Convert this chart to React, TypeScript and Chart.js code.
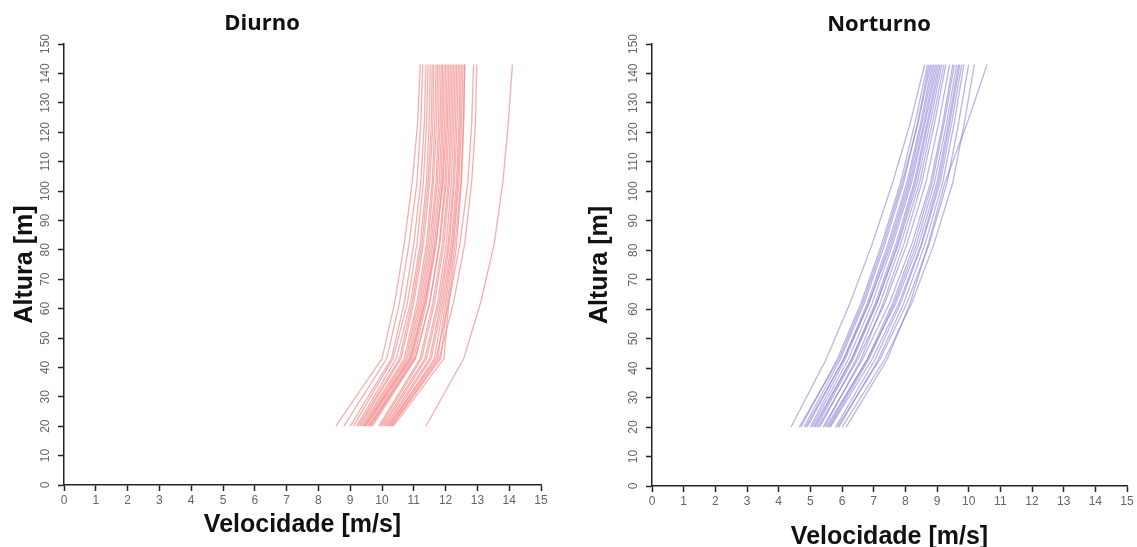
import React, { useEffect, useRef } from "react";
import { Chart, registerables } from "chart.js";

Chart.register(...registerables);

// Heights of the measurement levels [m]
const heights = [20, 43, 62, 82, 103, 123, 143];

// Diurno profiles: wind speed [m/s] at each height
const d01 = [8.55, 10.0, 10.4, 10.7, 10.95, 11.12, 11.2];
const d02 = [8.8, 10.15, 10.55, 10.85, 11.1, 11.22, 11.28];
const d03 = [9.0, 10.3, 10.7, 11.0, 11.22, 11.33, 11.38];
const d04 = [9.1, 10.35, 10.8, 11.1, 11.3, 11.4, 11.45];
const d05 = [9.2, 10.45, 10.9, 11.2, 11.4, 11.48, 11.52];
const d06 = [9.25, 10.55, 10.95, 11.25, 11.45, 11.55, 11.58];
const d07 = [9.3, 10.6, 11.0, 11.3, 11.5, 11.6, 11.63];
const d08 = [9.35, 10.7, 11.1, 11.4, 11.58, 11.66, 11.7];
const d09 = [9.4, 10.75, 11.15, 11.45, 11.62, 11.72, 11.75];
const d10 = [9.45, 10.8, 11.2, 11.5, 11.7, 11.78, 11.8];
const d11 = [9.5, 10.85, 11.25, 11.55, 11.74, 11.83, 11.86];
const d12 = [9.55, 10.9, 11.3, 11.6, 11.8, 11.88, 11.9];
const d13 = [9.6, 10.95, 11.35, 11.65, 11.85, 11.92, 11.95];
const d14 = [9.65, 11.0, 11.4, 11.7, 11.9, 11.97, 12.0];
const d15 = [9.45, 10.9, 11.35, 11.7, 11.92, 12.02, 12.05];
const d16 = [9.7, 11.05, 11.5, 11.8, 11.98, 12.06, 12.1];
const d17 = [9.6, 11.05, 11.5, 11.82, 12.02, 12.11, 12.15];
const d18 = [9.9, 11.2, 11.6, 11.9, 12.08, 12.16, 12.2];
const d19 = [9.95, 11.25, 11.65, 11.95, 12.12, 12.21, 12.25];
const d20 = [10.0, 11.35, 11.75, 12.02, 12.18, 12.26, 12.3];
const d21 = [10.05, 11.4, 11.8, 12.08, 12.24, 12.31, 12.35];
const d22 = [10.1, 11.5, 11.85, 12.12, 12.28, 12.36, 12.4];
const d23 = [10.15, 11.55, 11.9, 12.18, 12.34, 12.42, 12.45];
const d24 = [10.2, 11.65, 11.95, 12.22, 12.38, 12.46, 12.5];
const d25 = [10.25, 11.75, 12.0, 12.25, 12.42, 12.5, 12.55];
const d26 = [10.3, 11.85, 12.05, 12.3, 12.48, 12.56, 12.6];
const d27 = [10.36, 11.95, 12.1, 12.35, 12.5, 12.57, 12.6];
const d28 = [10.2, 11.7, 12.1, 12.45, 12.7, 12.82, 12.88];
const d29 = [10.3, 11.8, 12.25, 12.6, 12.82, 12.94, 12.98];
const d30 = [11.38, 12.57, 13.1, 13.53, 13.8, 13.97, 14.1];

// Norturno profiles: wind speed [m/s] at each height
const n01 = [4.39, 5.5, 6.25, 6.95, 7.6, 8.15, 8.61];
const n02 = [4.7, 5.85, 6.6, 7.25, 7.85, 8.3, 8.7];
const n03 = [4.8, 5.95, 6.7, 7.35, 7.95, 8.38, 8.75];
const n04 = [4.65, 5.9, 6.65, 7.3, 7.9, 8.4, 8.8];
const n05 = [4.9, 6.05, 6.8, 7.45, 8.05, 8.48, 8.85];
const n06 = [5.0, 6.1, 6.85, 7.5, 8.1, 8.52, 8.9];
const n07 = [4.85, 6.05, 6.85, 7.55, 8.15, 8.58, 8.95];
const n08 = [5.05, 6.2, 6.95, 7.6, 8.2, 8.62, 9.0];
const n09 = [5.15, 6.3, 7.05, 7.7, 8.28, 8.68, 9.05];
const n10 = [5.2, 6.35, 7.1, 7.75, 8.32, 8.72, 9.1];
const n11 = [5.1, 6.3, 7.1, 7.78, 8.38, 8.78, 9.15];
const n12 = [5.3, 6.45, 7.2, 7.85, 8.45, 8.85, 9.22];
const n13 = [5.45, 6.6, 7.3, 7.95, 8.52, 8.92, 9.28];
const n14 = [5.25, 6.5, 7.35, 8.05, 8.65, 9.05, 9.4];
const n15 = [5.4, 6.65, 7.5, 8.2, 8.8, 9.18, 9.5];
const n16 = [5.55, 6.8, 7.6, 8.28, 8.85, 9.22, 9.55];
const n17 = [5.6, 6.85, 7.65, 8.35, 8.92, 9.3, 9.62];
const n18 = [5.5, 6.8, 7.7, 8.42, 9.0, 9.36, 9.68];
const n19 = [5.63, 6.95, 7.8, 8.5, 9.05, 9.4, 9.72];
const n20 = [5.8, 7.05, 7.85, 8.52, 9.1, 9.46, 9.78];
const n21 = [5.9, 7.15, 7.95, 8.62, 9.18, 9.54, 9.85];
const n22 = [5.85, 7.2, 8.05, 8.75, 9.32, 9.68, 10.0];
const n23 = [6.0, 7.35, 8.2, 8.9, 9.5, 9.86, 10.18];
const n24 = [6.13, 7.43, 8.15, 8.72, 9.25, 9.95, 10.58];

const diurnoSeries = [d01, d02, d03, d04, d05, d06, d07, d08, d09, d10, d11, d12, d13, d14, d15, d16, d17, d18, d19, d20, d21, d22, d23, d24, d25, d26, d27, d28, d29, d30];
const norturnoSeries = [n01, n02, n03, n04, n05, n06, n07, n08, n09, n10, n11, n12, n13, n14, n15, n16, n17, n18, n19, n20, n21, n22, n23, n24];

const xTitle = "Velocidade [m/s]";
const yTitle = "Altura [m]";

const tickFont = { family: "'Liberation Sans', Arial, sans-serif", size: 12 };
const titleFont = { family: "'Liberation Sans', Arial, sans-serif", size: 25, weight: "bold" as const };

function makeConfig(series: number[][], color: string, opts: any) {
  return {
    type: "scatter" as const,
    data: {
      datasets: series.map((s, k) => ({
        label: "s" + k,
        data: heights.map((h, i) => ({ x: s[i], y: h })),
        showLine: true,
        borderColor: color,
        borderWidth: 1.3,
        pointRadius: 0,
        fill: false,
      })),
    },
    options: {
      responsive: false,
      animation: false as const,
      layout: { padding: opts.padding },
      plugins: { legend: { display: false }, tooltip: { enabled: false }, title: { display: false } },
      scales: {
        x: {
          type: "linear" as const,
          min: 0,
          max: 15,
          afterFit: (sc: any) => { sc.height = opts.xHeight; },
          ticks: { stepSize: 1, color: "#666", font: tickFont, padding: 2, maxRotation: 0 },
          grid: { display: true, drawOnChartArea: false, drawTicks: true, tickLength: 6, tickColor: "#222", tickWidth: 1.5 },
          border: { display: true, color: "#222", width: 1.5 },
          title: { display: true, text: xTitle, color: "#111", font: titleFont, padding: { top: 0, bottom: opts.xTitlePad } },
        },
        y: {
          type: "linear" as const,
          min: 0,
          max: 150,
          afterFit: (sc: any) => { sc.width = opts.yWidth; },
          ticks: {
            stepSize: 5,
            color: "#666",
            font: tickFont,
            padding: 2,
            minRotation: 90,
            maxRotation: 90,
            crossAlign: "center" as const,
            callback: (v: any) => (Number(v) % 10 === 0 ? String(v) : ""),
          },
          grid: { display: true, drawOnChartArea: false, drawTicks: true, tickLength: 6, tickColor: "#222", tickWidth: 1.5 },
          border: { display: true, color: "#222", width: 1.5 },
          title: { display: true, text: yTitle, color: "#111", font: titleFont, padding: { top: opts.yTitlePad, bottom: 0 } },
        },
      },
    },
  };
}

function Panel(props: { series: number[][]; color: string; opts: any; style: any; w: number; h: number }) {
  const ref = useRef<HTMLCanvasElement | null>(null);
  useEffect(() => {
    if (!ref.current) return;
    const chart = new Chart(ref.current, makeConfig(props.series, props.color, props.opts) as any);
    return () => chart.destroy();
  }, []);
  return <canvas ref={ref} width={props.w} height={props.h} style={{ position: "absolute", ...props.style }} />;
}

const headStyle: any = {
  position: "absolute",
  transform: "translate(-50%, -50%)",
  fontFamily: "'Open Sans', sans-serif",
  fontWeight: 700,
  fontSize: 22,
  color: "#111",
  whiteSpace: "nowrap",
};

export default function App() {
  return (
    <div style={{ position: "absolute", left: 0, top: 0, width: 1137, height: 547, overflow: "hidden", background: "#fff" }}>
      <Panel
        series={diurnoSeries}
        color="rgba(242, 140, 140, 0.7)"
        w={560}
        h={547}
        style={{ left: 0, top: 0 }}
        opts={{ padding: { top: 44, right: 19, left: 0, bottom: 0 }, xHeight: 62, yWidth: 64, xTitlePad: 7, yTitlePad: 10 }}
      />
      <Panel
        series={norturnoSeries}
        color="rgba(130, 120, 210, 0.55)"
        w={557}
        h={560}
        style={{ left: 580, top: 0 }}
        opts={{ padding: { top: 44, right: 10, left: 0, bottom: 0 }, xHeight: 74, yWidth: 72, xTitlePad: 8, yTitlePad: 5 }}
      />
      <div style={{ ...headStyle, left: 262, top: 21 }}>Diurno</div>
      <div style={{ ...headStyle, left: 879, top: 22 }}>Norturno</div>
    </div>
  );
}
